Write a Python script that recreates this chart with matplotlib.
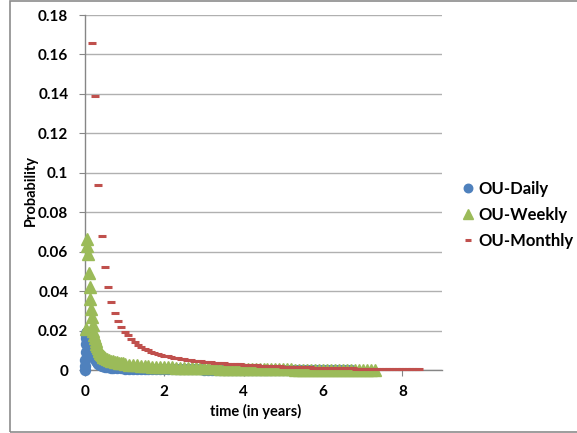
import numpy as np
import matplotlib
matplotlib.use("Agg")
import matplotlib.pyplot as plt
from matplotlib.patches import Rectangle

# ---------------- data ----------------
daily_t_early = [0.004, 0.008, 0.012, 0.016, 0.020, 0.024, 0.028, 0.032, 0.040, 0.050,
                 0.060, 0.070, 0.080, 0.090, 0.100, 0.110, 0.120, 0.130, 0.140, 0.150,
                 0.160, 0.170, 0.180, 0.190, 0.200, 0.22, 0.24, 0.26, 0.28, 0.30,
                 0.32, 0.34, 0.36, 0.38, 0.40, 0.43, 0.46, 0.50, 0.55, 0.60,
                 0.65, 0.70, 0.80, 0.90]
daily_p_early = [0.0000, 0.0020, 0.0050, 0.0090, 0.0130, 0.0160, 0.0180, 0.0190, 0.0195, 0.0195,
                 0.0192, 0.0188, 0.0183, 0.0177, 0.0172, 0.0162, 0.0152, 0.0142, 0.0132, 0.0122,
                 0.0114, 0.0106, 0.0100, 0.0092, 0.0085, 0.0072, 0.0062, 0.0054, 0.0047, 0.0041,
                 0.0036, 0.0032, 0.0029, 0.0026, 0.0024, 0.0021, 0.0019, 0.0017, 0.0015, 0.0013,
                 0.0012, 0.0011, 0.0009, 0.0008]
daily_p_tail = [0.0007, 0.0007, 0.0006, 0.0006, 0.0006, 0.0005, 0.0005, 0.0005, 0.0005, 0.0004,
                0.0004, 0.0004, 0.0004, 0.0003, 0.0003, 0.0003, 0.0003, 0.0003, 0.0003, 0.0003,
                0.0002, 0.0002, 0.0002, 0.0002, 0.0002, 0.0002, 0.0002, 0.0002, 0.0002, 0.0002,
                0.0002, 0.0002, 0.0002, 0.0002, 0.0002, 0.0001, 0.0001, 0.0001, 0.0001, 0.0001,
                0.0001, 0.0001, 0.0001, 0.0001, 0.0001, 0.0001, 0.0001, 0.0001, 0.0001, 0.0001,
                0.0001, 0.0001, 0.0001, 0.0001, 0.0001, 0.0001, 0.0001, 0.0001]

weekly_p_early = [0.021, 0.0665, 0.063, 0.059, 0.049, 0.042, 0.036, 0.031, 0.027, 0.023,
                  0.020, 0.0178, 0.0160, 0.0145, 0.0132, 0.0120, 0.0110, 0.0101, 0.0094, 0.0087,
                  0.0082, 0.0077, 0.0072, 0.0068, 0.0064, 0.0060]
weekly_t_mid = [0.55, 0.60, 0.65, 0.70, 0.75, 0.80, 0.85, 0.90, 0.95, 1.00]
weekly_p_mid = [0.0056, 0.0052, 0.0048, 0.0045, 0.0042, 0.0039, 0.0037, 0.0035, 0.0033, 0.0031]
weekly_p_tail = [0.0027, 0.0025, 0.0023, 0.0021, 0.0020, 0.0019, 0.0017, 0.0016, 0.0015, 0.0014,
                 0.0013, 0.0013, 0.0012, 0.0012, 0.0011, 0.0011, 0.0010, 0.0010, 0.0009, 0.0009,
                 0.0008, 0.0008, 0.0008, 0.0007, 0.0007, 0.0007, 0.0006, 0.0006, 0.0006, 0.0005,
                 0.0005, 0.0005, 0.0005, 0.0004, 0.0004, 0.0004, 0.0004, 0.0003, 0.0003, 0.0003,
                 0.0003, 0.0003, 0.0002, 0.0002, 0.0002, 0.0002, 0.0002, 0.0002, 0.0002, 0.0002,
                 0.0001, 0.0001, 0.0001, 0.0001, 0.0001, 0.0001, 0.0001, 0.0001, 0.0001, 0.0000,
                 0.0000, 0.0000, 0.0000]

monthly_p = [0.166, 0.139, 0.094, 0.068, 0.052, 0.042, 0.0345, 0.029, 0.025, 0.022,
             0.0195, 0.0176, 0.0157, 0.0141, 0.0128, 0.0118, 0.0108, 0.0100, 0.0093, 0.0087,
             0.0082, 0.0077, 0.0073, 0.0069, 0.0065, 0.0062, 0.0059, 0.0056, 0.0054, 0.0052,
             0.0050, 0.0048, 0.0046, 0.0044, 0.0042, 0.0040, 0.0039, 0.0037, 0.0036, 0.0034,
             0.0033, 0.0032, 0.0031, 0.0030, 0.0029, 0.0028, 0.0027, 0.0026, 0.0025, 0.0024,
             0.0023, 0.0022, 0.0021, 0.0020, 0.0020, 0.0019, 0.0018, 0.0018, 0.0017, 0.0016,
             0.0016, 0.0015, 0.0015, 0.0014, 0.0014, 0.0013, 0.0013, 0.0012, 0.0012, 0.0011,
             0.0011, 0.0010, 0.0010, 0.0010, 0.0009, 0.0009, 0.0009, 0.0008, 0.0008, 0.0008,
             0.0007, 0.0007, 0.0007, 0.0007, 0.0006, 0.0006, 0.0006, 0.0006, 0.0005, 0.0005,
             0.0005, 0.0005, 0.0005, 0.0004, 0.0004, 0.0004, 0.0004, 0.0004, 0.0004, 0.0003]

x_ticks = [0, 2, 4, 6, 8]
y_ticks = [0, 0.02, 0.04, 0.06, 0.08, 0.1, 0.12, 0.14, 0.16, 0.18]
y_tick_labels = ["0", "0.02", "0.04", "0.06", "0.08", "0.1", "0.12", "0.14", "0.16", "0.18"]
series_names = ["OU-Daily", "OU-Weekly", "OU-Monthly"]

# sampling grids
daily_t = np.concatenate([daily_t_early, 1.0 + 0.1 * np.arange(len(daily_p_tail))])
daily_p = np.concatenate([daily_p_early, daily_p_tail])
weekly_t = np.concatenate([np.arange(1, len(weekly_p_early) + 1) / 52.0, weekly_t_mid,
                           1.1 + 0.1 * np.arange(len(weekly_p_tail))])
weekly_p = np.concatenate([weekly_p_early, weekly_p_mid, weekly_p_tail])
monthly_t = np.arange(2, 2 + len(monthly_p)) / 12.0

# ---------------- figure ----------------
W, H = 577, 433
plt.rcParams['font.family'] = ['Lato', 'DejaVu Sans']
fig = plt.figure(figsize=(W / 100, H / 100), dpi=100)
fig.patch.set_facecolor('white')
fig.add_artist(Rectangle((10 / W, 1 - 431.5 / H), 1.2, (431.5 - 0.5) / H,
                         transform=fig.transFigure, fill=False, edgecolor='#8c8c8c', lw=1.2))

ax = fig.add_axes([85 / W, 1 - 370 / H, (442 - 85) / W, (370 - 15) / H])
c_daily, c_weekly, c_monthly = '#4F81BD', '#9BBB59', '#C0504D'

ax.plot(daily_t, daily_p, linestyle='none', marker='o', ms=7.2, color=c_daily,
        mec=c_daily, label=series_names[0], clip_on=False, zorder=3)
ax.plot(weekly_t, weekly_p, linestyle='none', marker='^', ms=8.3, color=c_weekly,
        mec=c_weekly, label=series_names[1], clip_on=False, zorder=4)
ax.plot(monthly_t, monthly_p, linestyle='none', marker='_', ms=5.2, mew=2.2, color=c_monthly,
        label=series_names[2], clip_on=False, zorder=5)

ax.set_xlim(0, 9)
ax.set_ylim(0, 0.18)
ax.set_xticks(x_ticks)
ax.set_xticklabels([str(v) for v in x_ticks])
ax.set_yticks(y_ticks)
ax.set_yticklabels(y_tick_labels)
ax.grid(axis='y', color='#b0b0b0', lw=1.0)
ax.set_axisbelow(True)
for s in ['top', 'right']:
    ax.spines[s].set_visible(False)
for s in ['left', 'bottom']:
    ax.spines[s].set_color('#868686')
    ax.spines[s].set_linewidth(1.0)
ax.tick_params(axis='both', direction='out', length=4, color='#868686', labelsize=11)
ax.tick_params(axis='y', pad=8)
ax.tick_params(axis='x', pad=7)
for lab in ax.get_xticklabels() + ax.get_yticklabels():
    lab.set_fontweight('bold')

ax.set_xlabel('time (in years)', fontsize=10.5, fontweight='bold')
ax.xaxis.set_label_coords((256 - 85) / (442 - 85), -(411 - 370) / (370 - 15))
ax.xaxis.label.set_va('center')
ax.set_ylabel('Probability', fontsize=10.5, fontweight='bold')
ax.yaxis.set_label_coords(-(85 - 31) / (442 - 85), (370 - 190) / (370 - 15))
ax.yaxis.label.set_va('center')

leg = fig.legend(loc='center left', bbox_to_anchor=(460 / W, 1 - 215 / H), frameon=False,
                 prop={'weight': 'bold', 'size': 12}, handlelength=0.9, handletextpad=0.2,
                 labelspacing=0.6, borderpad=0, borderaxespad=0, markerscale=0.85)
for h in leg.legend_handles:
    h.set_clip_on(False)

fig.savefig('out.png', dpi=100)
